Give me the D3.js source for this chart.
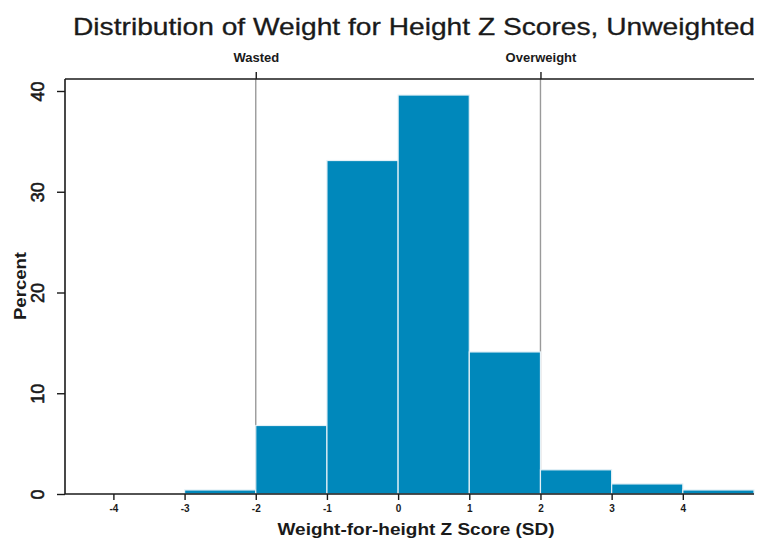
<!DOCTYPE html>
<html>
<head>
<meta charset="utf-8">
<script src="https://cdn.jsdelivr.net/npm/d3@7"></script>
<style>
  body { margin: 0; background: #fff; }
  svg { display: block; font-family: "Liberation Sans", Arial, sans-serif; }
</style>
</head>
<body>
<svg id="chart" width="760" height="539"></svg>
<script>
// ---- data ----
const binStarts = [-3, -2, -1, 0, 1, 2, 3, 4];
const binWidth = 1;
const percentValues = [0.4, 6.8, 33.1, 39.6, 14.1, 2.4, 1.0, 0.4];
const xTicks = [-4, -3, -2, -1, 0, 1, 2, 3, 4];
const yTicks = [0, 10, 20, 30, 40];
const cutoffValues = [-2, 2];
const cutoffLabels = ["Wasted", "Overweight"];
const titleText = "Distribution of Weight for Height Z Scores, Unweighted";
const xTitle = "Weight-for-height Z Score (SD)";
const yTitle = "Percent";

(function () {
// ---- layout ----
const svg = d3.select("#chart");
const plotLeft = 65, plotRight = 754, plotBottom = 494, plotTop = 91, topAxisY = 79;
const ink = "#1a1a1a";

const x = d3.scaleLinear().domain([-4.68, 5]).range([plotLeft, plotRight]);
const y = d3.scaleLinear().domain([0, 40]).range([plotBottom, plotTop]);

// title
svg.append("text")
  .attr("x", 414).attr("y", 35)
  .attr("text-anchor", "middle")
  .attr("font-size", 24)
  .attr("fill", ink).attr("stroke", ink).attr("stroke-width", 0.3)
  .attr("textLength", 682)
  .attr("lengthAdjust", "spacingAndGlyphs")
  .text(titleText);

// cutoff reference lines (behind bars)
svg.append("g").selectAll("line").data(cutoffValues).join("line")
  .attr("x1", d => x(d)).attr("x2", d => x(d))
  .attr("y1", topAxisY).attr("y2", plotBottom)
  .attr("stroke", "#9a9a9a").attr("stroke-width", 1.4);

// bars
svg.append("g").selectAll("rect").data(binStarts).join("rect")
  .attr("x", (d) => x(d))
  .attr("width", (d) => x(d + binWidth) - x(d))
  .attr("y", (d, i) => y(percentValues[i]))
  .attr("height", (d, i) => y(0) - y(percentValues[i]))
  .attr("fill", "#0088bb")
  .attr("stroke", "#e4f1f7")
  .attr("stroke-width", 1.2);

// bottom axis
const xAxis = d3.axisBottom(x).tickValues(xTicks).tickSize(6).tickPadding(5).tickFormat(d => String(d));
const gx = svg.append("g").attr("transform", `translate(0,${plotBottom})`).call(xAxis);
gx.select(".domain").attr("d", `M${plotLeft},0H${plotRight}`).attr("stroke", ink).attr("stroke-width", 1.6);
gx.selectAll(".tick line").attr("stroke", ink).attr("stroke-width", 1.4);
gx.selectAll(".tick text").attr("font-size", 10).attr("font-weight", "bold").attr("fill", ink);

// left axis
const yAxis = d3.axisLeft(y).tickValues(yTicks).tickSize(8).tickPadding(0).tickFormat(d => String(d));
const gy = svg.append("g").attr("transform", `translate(${plotLeft},0)`).call(yAxis);
gy.select(".domain").attr("d", `M0,${plotBottom}V${topAxisY}`).attr("stroke", ink).attr("stroke-width", 1.6);
gy.selectAll(".tick line").attr("stroke", ink).attr("stroke-width", 1.4);
gy.selectAll(".tick text")
  .attr("font-size", 18).attr("fill", ink).attr("stroke", ink).attr("stroke-width", 0.6)
  .attr("text-anchor", "middle")
  .attr("transform", "translate(-27,0) rotate(-90)")
  .attr("x", 0).attr("y", 0).attr("dy", "0.36em");

// top axis with cutoff labels
const topAxis = d3.axisTop(x).tickValues(cutoffValues).tickSize(7).tickPadding(10)
  .tickFormat((d, i) => cutoffLabels[i]);
const gt = svg.append("g").attr("transform", `translate(0,${topAxisY})`).call(topAxis);
gt.select(".domain").attr("d", `M${plotLeft},0H${plotRight}`).attr("stroke", ink).attr("stroke-width", 1.6);
gt.selectAll(".tick line").attr("stroke", ink).attr("stroke-width", 1.4);
gt.selectAll(".tick text").attr("font-size", 13).attr("font-weight", "bold").attr("fill", ink);

// axis titles
svg.append("text")
  .attr("x", 416).attr("y", 535)
  .attr("text-anchor", "middle")
  .attr("font-size", 17).attr("font-weight", "bold").attr("fill", ink)
  .attr("textLength", 277).attr("lengthAdjust", "spacingAndGlyphs")
  .text(xTitle);

svg.append("text")
  .attr("transform", "translate(26,286) rotate(-90)")
  .attr("text-anchor", "middle")
  .attr("font-size", 17).attr("font-weight", "bold").attr("fill", ink)
  .attr("textLength", 68).attr("lengthAdjust", "spacingAndGlyphs")
  .text(yTitle);
})();
</script>
</body>
</html>
